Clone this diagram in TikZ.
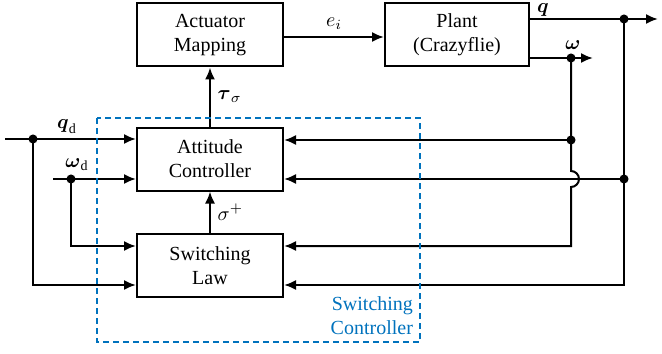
\documentclass[tikz,border=0pt]{standalone}
\usepackage{amsmath}
\usepackage{fontspec}
\setmainfont{Liberation Serif}
\usetikzlibrary{positioning,arrows.meta}
\definecolor{ctrlblue}{RGB}{0,114,189}

\begin{document}
\begin{tikzpicture}[x=0.5pt,y=-0.5pt,
	block/.style={draw,line width=1pt,minimum width=73pt,minimum height=31.5pt,align=center},
	sig/.style={line width=1pt,-{Latex[length=6pt,width=5pt]}},
	dot/.style={circle,fill,inner sep=1.6pt}]
	\useasboundingbox (0,0) rectangle (662,353);

	% Blocks
	\node[block] (act) at (210,35) {Actuator\\Mapping};
	\node[block, minimum width=72pt] (plant) at (457,35) {Plant\\(Crazyflie)};
	\node[block] (att) at (210,159) {Attitude\\Controller};
	\node[block] (sw) at (210,265.5) {Switching\\Law};

	% Junctions and free ends
	\coordinate (qj) at (624,19);
	\coordinate (qout) at (658,19);
	\coordinate (wj) at (571,58);
	\coordinate (wout) at (593,58);
	\coordinate (wa) at (571,140);
	\coordinate (qa) at (624,179);
	\coordinate (wbot) at (571,246);
	\coordinate (qbot) at (624,285);
	\coordinate (qdin) at (5,139);
	\coordinate (qdj) at (33,139);
	\coordinate (wdin) at (53,179);
	\coordinate (wdj) at (71,179);

	% Forward path
	\draw[sig] (act.east |- 0,37) -- (plant.west |- 0,37) node[midway, above] (ei) {$e_i$};
	\draw[sig] (att.north) -- (act.south) node[midway, right] (tau) {$\boldsymbol{\tau}_\sigma$};
	\draw[sig] (sw.north) -- (att.south) node[midway, right] (sigp) {$\sigma^+$};

	% Outputs
	\draw[sig] (plant.east |- qj) -- (qout);
	\node[inner sep=0pt] (qlab) at (543,10) {$\boldsymbol{q}$};
	\draw[sig] (plant.east |- wj) -- (wout);
	\node (wlab) at (573,45) {$\boldsymbol{\omega}$};

	% Feedback
	\draw[sig] (qj) -- (qbot) -- (sw.east |- qbot);
	\draw[sig] (qa) -- (att.east |- qa);
	\draw[sig] (wa) -- (att.east |- wa);
	\draw[sig] (wj) -- (wa) -- ++(0,31) arc[start angle=90, end angle=-90, radius=4pt] -- (wbot) -- (sw.east |- wbot);

	% References
	\draw[sig] (qdin) -- (att.west |- qdin);
	\draw[sig] (wdin) -- (att.west |- wdin);
	\draw[sig] (qdj) |- (sw.west |- qbot);
	\draw[sig] (wdj) |- (sw.west |- wbot);
	\node (qdlab) at (67,127) {$\boldsymbol{q}_{\mathrm{d}}$};
	\node (wdlab) at (77,165) {$\boldsymbol{\omega}_{\mathrm{d}}$};

	% Dots
	\foreach \p in {qj,wj,wa,qa,qdj,wdj}
		\node[dot] at (\p) {};

	% Switching controller frame
	\draw[ctrlblue, line width=1pt, dash pattern=on 3pt off 2pt] (97,118) rectangle (420,342);
	\node[ctrlblue, align=right, anchor=south east] (swc) at (420,342) {Switching\\Controller};
\end{tikzpicture}
\end{document}
